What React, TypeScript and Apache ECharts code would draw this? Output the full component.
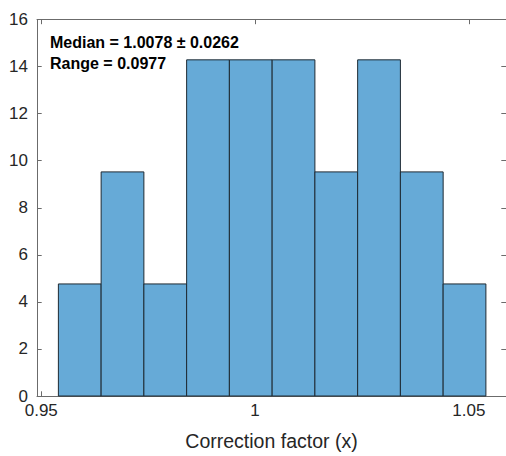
import React, { useEffect, useRef } from "react";
import * as echarts from "echarts";

const binEdges = [0.954, 0.964, 0.974, 0.984, 0.994, 1.004, 1.014, 1.024, 1.034, 1.044, 1.054];
const binValues = [4.7619, 9.5238, 4.7619, 14.2857, 14.2857, 14.2857, 9.5238, 14.2857, 9.5238, 4.7619];
const xTicks = [0.95, 1, 1.05];
const xTickLabels = ["0.95", "1", "1.05"];
const annotationLines = ["Median = 1.0078 \u00b1 0.0262", "Range = 0.0977"];
const xAxisTitle = "Correction factor (x)";

const FONT = "'Liberation Sans', Arial, Helvetica, sans-serif";
const AXIS_COLOR = "#6b6b6b";
const TEXT_COLOR = "#262626";

export default function App() {
  const ref = useRef<HTMLDivElement>(null);
  useEffect(() => {
    if (!ref.current) return;
    const chart = echarts.init(ref.current, null, { renderer: "svg" });
    const data = binValues.map((v, i) => [binEdges[i], binEdges[i + 1], v]);
    const xMin = 0.949;
    const xMax = 1.0587;
    const tickLen = 4.7;
    chart.setOption({
      animation: false,
      backgroundColor: "#ffffff",
      grid: { left: 37, right: -2, top: 19.5, bottom: 58.5, containLabel: false },
      xAxis: [
        {
          type: "value",
          position: "bottom",
          min: xMin,
          max: xMax,
          splitLine: { show: false },
          axisLine: { show: true, onZero: false, lineStyle: { color: AXIS_COLOR, width: 1 } },
          axisTick: { show: true, inside: true, length: tickLen, customValues: xTicks, lineStyle: { color: AXIS_COLOR } },
          axisLabel: {
            show: true,
            customValues: xTicks,
            formatter: (v: number) => {
              const i = xTicks.findIndex((t) => Math.abs(t - v) < 1e-9);
              return i >= 0 ? xTickLabels[i] : "";
            },
            margin: 8,
            lineHeight: 12,
            fontSize: 17,
            fontFamily: FONT,
            color: TEXT_COLOR,
          },
          name: xAxisTitle,
          nameLocation: "middle",
          nameGap: 35,
          nameTextStyle: { fontSize: 19.5, fontFamily: FONT, color: TEXT_COLOR },
        },
        {
          type: "value",
          position: "top",
          min: xMin,
          max: xMax,
          splitLine: { show: false },
          axisLine: { show: true, onZero: false, lineStyle: { color: AXIS_COLOR, width: 1 } },
          axisTick: { show: true, inside: true, length: tickLen, customValues: xTicks, lineStyle: { color: AXIS_COLOR } },
          axisLabel: { show: false },
        },
      ],
      yAxis: [
        {
          type: "value",
          position: "left",
          min: 0,
          max: 16,
          interval: 2,
          splitLine: { show: false },
          axisLine: { show: true, onZero: false, lineStyle: { color: AXIS_COLOR, width: 1 } },
          axisTick: { show: true, inside: true, length: tickLen, lineStyle: { color: AXIS_COLOR } },
          axisLabel: { margin: 9, lineHeight: 12, fontSize: 17, fontFamily: FONT, color: TEXT_COLOR },
        },
        {
          type: "value",
          position: "right",
          min: 0,
          max: 16,
          interval: 2,
          splitLine: { show: false },
          axisLine: { show: true, onZero: false, lineStyle: { color: AXIS_COLOR, width: 1 } },
          axisTick: { show: true, inside: true, length: tickLen, lineStyle: { color: AXIS_COLOR } },
          axisLabel: { show: false },
        },
      ],
      series: [
        {
          type: "custom",
          xAxisIndex: 0,
          yAxisIndex: 0,
          encode: { x: [0, 1], y: 2 },
          data,
          renderItem: (params: any, api: any) => {
            const x0 = api.value(0);
            const x1 = api.value(1);
            const y = api.value(2);
            const p0 = api.coord([x0, y]);
            const p1 = api.coord([x1, 0]);
            return {
              type: "rect",
              shape: { x: p0[0], y: p0[1], width: p1[0] - p0[0], height: p1[1] - p0[1] },
              style: { fill: "#66aad7", stroke: "#1e2a33", lineWidth: 1 },
            };
          },
        },
      ],
      graphic: annotationLines.map((t, i) => ({
        type: "text",
        left: 50,
        top: 34 + i * 21,
        z: 100,
        style: {
          text: t,
          font: `bold 16px ${FONT}`,
          fill: "#000000",
        },
      })),
    });
    return () => chart.dispose();
  }, []);
  return (
    <div
      ref={ref}
      style={{ position: "fixed", left: 0, top: 0, width: 506, height: 456 }}
    />
  );
}
